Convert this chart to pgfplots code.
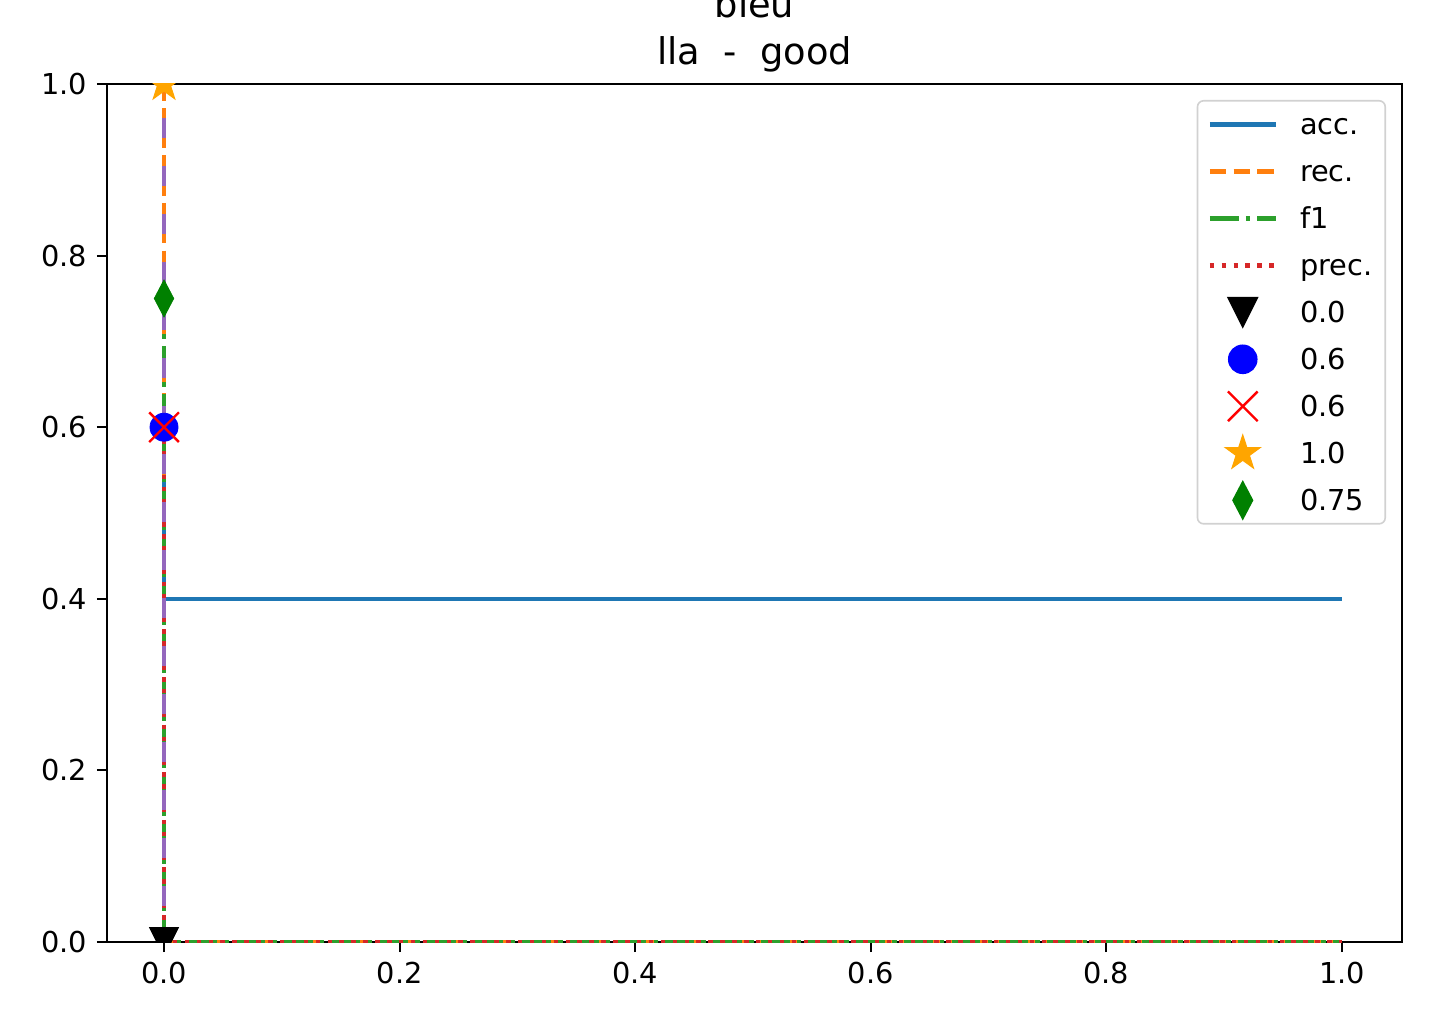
\documentclass[border=0pt]{standalone}
\usepackage{pgfplots}
\pgfplotsset{compat=1.18}
\usepackage{fontspec}
\setmainfont{DejaVu Sans}
\usetikzlibrary{plotmarks}
\definecolor{tabblue}{HTML}{1F77B4}
\definecolor{taborange}{HTML}{FF7F0E}
\definecolor{tabgreen}{HTML}{2CA02C}
\definecolor{tabred}{HTML}{D62728}
\definecolor{tabpurple}{HTML}{9467BD}
\definecolor{mplorange}{RGB}{255,165,0}
\definecolor{mplgreen}{RGB}{0,128,0}
\pgfdeclareplotmark{fstar}{%
  \pgfpathmoveto{\pgfqpointpolar{90}{\pgfplotmarksize}}%
  \pgfpathlineto{\pgfqpointpolar{126}{0.382\pgfplotmarksize}}%
  \pgfpathlineto{\pgfqpointpolar{162}{\pgfplotmarksize}}%
  \pgfpathlineto{\pgfqpointpolar{198}{0.382\pgfplotmarksize}}%
  \pgfpathlineto{\pgfqpointpolar{234}{\pgfplotmarksize}}%
  \pgfpathlineto{\pgfqpointpolar{270}{0.382\pgfplotmarksize}}%
  \pgfpathlineto{\pgfqpointpolar{306}{\pgfplotmarksize}}%
  \pgfpathlineto{\pgfqpointpolar{342}{0.382\pgfplotmarksize}}%
  \pgfpathlineto{\pgfqpointpolar{18}{\pgfplotmarksize}}%
  \pgfpathlineto{\pgfqpointpolar{54}{0.382\pgfplotmarksize}}%
  \pgfpathclose\pgfusepathqfillstroke}
\pgfdeclareplotmark{tridown}{%
  \pgfpathmoveto{\pgfqpoint{0pt}{-\pgfplotmarksize}}%
  \pgfpathlineto{\pgfqpoint{-\pgfplotmarksize}{\pgfplotmarksize}}%
  \pgfpathlineto{\pgfqpoint{\pgfplotmarksize}{\pgfplotmarksize}}%
  \pgfpathclose\pgfusepathqfillstroke}
\pgfplotsset{
  linelegend/.style={legend image code/.code={\path[draw=none,fill=none] (0bp,-5bp) rectangle (33bp,5bp);\draw[##1] (0bp,0bp) -- (33bp,0bp);}},
  marklegend/.style={legend image code/.code={\path[draw=none,fill=none] (0bp,-5bp) rectangle (33bp,5bp);\draw[overlay,##1] plot coordinates {(16.5bp,0bp)};}},
}
\begin{document}
\fontsize{14.4bp}{17bp}\selectfont
\begin{tikzpicture}
\begin{axis}[
  scale only axis, width=647.5bp, height=429bp,
  xmin=-0.0484, xmax=1.051, ymin=0, ymax=1,
  xtick={0,0.2,0.4,0.6,0.8,1.0}, ytick={0,0.2,0.4,0.6,0.8,1.0},
  xticklabel={\pgfmathprintnumber[fixed,precision=1,zerofill]{\tick}},
  yticklabel={\pgfmathprintnumber[fixed,precision=1,zerofill]{\tick}},
  /pgf/number format/assume math mode=true,
  tick align=outside, major tick length=5bp,
  tick style={black, line width=1bp},
  axis line style={line width=1.1bp},
  xtick pos=bottom, ytick pos=left,
  ticklabel style={font=\fontsize{14.4bp}{17bp}\selectfont},
  clip marker paths=true,
  legend cell align=left,
  legend style={at={(rel axis cs:1,1)}, anchor=north east, xshift=-8bp, yshift=-8bp,
    draw=black!18, rounded corners=3bp, line width=0.8bp,
    inner xsep=5bp, inner ysep=5bp, row sep=10bp,
    font=\fontsize{14.4bp}{17bp}\selectfont,
    /tikz/every odd column/.append style={column sep=9.5bp},
    nodes={inner sep=1.5bp, text height=10.5bp, text depth=0bp}},
]
\coordinate (sw) at (rel axis cs:0,0);
\coordinate (ne) at (rel axis cs:1,1);
\coordinate (top) at (rel axis cs:0.5,1);
\addplot[tabblue, line width=2.25bp, linelegend] coordinates {(0,0.6) (0,0.4) (1,0.4)};
\addlegendentry{acc.}
\addplot[taborange, line width=2.25bp, dash pattern=on 8.3bp off 3.6bp, linelegend] coordinates {(0,1.0) (0,0) (1,0)};
\addlegendentry{rec.}
\addplot[tabgreen, line width=2.25bp, dash pattern=on 14.4bp off 3.6bp on 2.25bp off 3.6bp, linelegend] coordinates {(0,0.75) (0,0) (1,0)};
\addlegendentry{f1}
\addplot[tabred, line width=2.25bp, dash pattern=on 2.25bp off 3.7bp, linelegend] coordinates {(0,0.6) (0,0) (1,0)};
\addlegendentry{prec.}
\addplot[tabpurple, line width=2.25bp, dash pattern=on 10bp off 14bp, dash phase=6bp, forget plot] coordinates {(0,0) (0,0.98)};
\addplot[only marks, mark=tridown, mark size=7.25bp, mark options={fill=black, draw=black}, marklegend] coordinates {(0,0)};
\addlegendentry{0.0}
\addplot[only marks, mark=*, mark size=7bp, mark options={fill=blue, draw=blue}, marklegend] coordinates {(0,0.6)};
\addlegendentry{0.6}
\addplot[only marks, mark=x, mark size=10.5bp, mark options={draw=red, line width=1.2bp}, marklegend] coordinates {(0,0.6)};
\addlegendentry{0.6}
\addplot[only marks, mark=fstar, mark size=9.2bp, mark options={fill=mplorange, draw=mplorange, line width=0.5bp}, marklegend] coordinates {(0,1.0)};
\addlegendentry{1.0}
\addplot[only marks, mark=diamond*, mark size=9.25bp, mark options={fill=mplgreen, draw=mplgreen, xscale=0.7}, marklegend] coordinates {(0,0.75)};
\addlegendentry{0.75}
\end{axis}
\node[anchor=base, font=\fontsize{18.4bp}{22bp}\selectfont] at ([yshift=9.5bp]top) {lla\ \ -\ \ good};
\node[anchor=base, font=\fontsize{18.4bp}{22bp}\selectfont] at ([yshift=33bp]top) {bleu};
\pgfresetboundingbox
\path[use as bounding box] ([xshift=-53.5bp,yshift=-43.5bp]sw) rectangle ([xshift=16.5bp,yshift=42bp]ne);
\end{tikzpicture}
\end{document}
